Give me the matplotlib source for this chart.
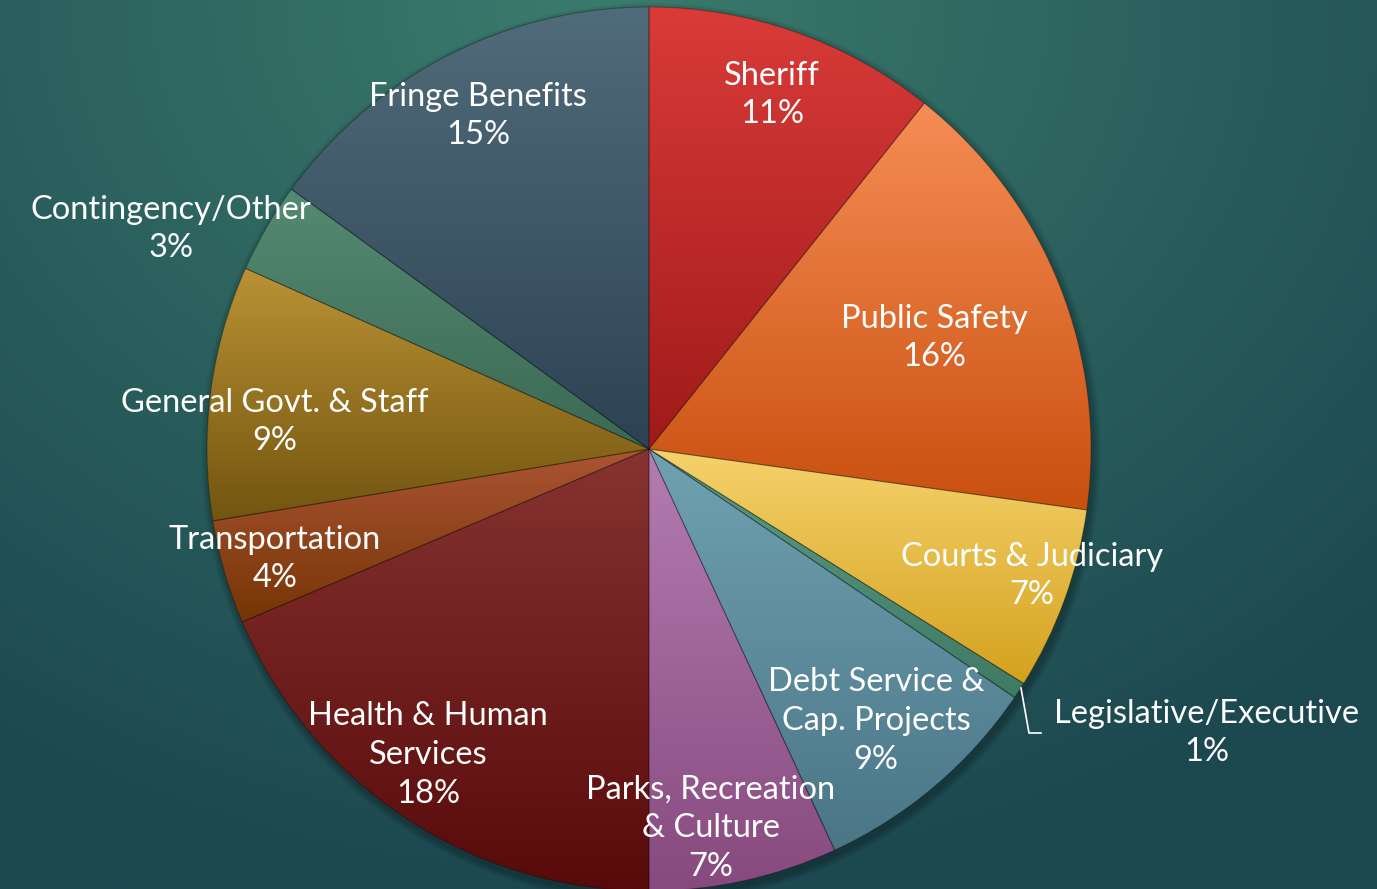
import numpy as np
import matplotlib
matplotlib.use("Agg")
import matplotlib.pyplot as plt
from matplotlib.colors import to_rgb

# ---- data ----
categories = ["Sheriff", "Public Safety", "Courts & Judiciary", "Legislative/Executive",
              "Debt Service &\nCap. Projects", "Parks, Recreation\n& Culture",
              "Health & Human\nServices", "Transportation", "General Govt. & Staff",
              "Contingency/Other", "Fringe Benefits"]
shares = [10.7, 16.5, 6.7, 0.6, 8.6, 6.9, 18.6, 3.8, 9.3, 3.3, 15.0]
pct_labels = ["11%", "16%", "7%", "1%", "9%", "7%", "18%", "4%", "9%", "3%", "15%"]

# ---- style ----
top_colors = ["#d93b38", "#f68d55", "#f6d26c", "#5c9c84", "#70a2b2", "#b37db1",
              "#863331", "#ab5433", "#ba9234", "#548a72", "#506b79"]
bot_colors = ["#a01a1a", "#c9500f", "#d4a21f", "#3f7a64", "#4a7686", "#874a7f",
              "#580a0a", "#753505", "#735510", "#3b6954", "#2d4354"]
label_pos = [(772, 95), (934, 338), (1032, 576), (1207, 733), (876, 721),
             (711, 828), (428, 755), (275, 559), (275, 422), (171, 229), (478, 116)]

W, H = 1377, 889
fig = plt.figure(figsize=(W / 100, H / 100), dpi=100)
ax = fig.add_axes([0, 0, 1, 1])

# background gradient
yy, xx = np.mgrid[0:H:4, 0:W:4]
c_light = np.array(to_rgb("#3b7b6d"))
c_dark = np.array(to_rgb("#1c4850"))
d = np.hypot((xx - 600) / 1100.0, (yy - 0) / 900.0)
d = np.clip(d, 0, 1)[..., None]
bg = c_light * (1 - d) + c_dark * d
ax.imshow(bg, extent=[0, W, H, 0], zorder=0, interpolation="bilinear", aspect="auto")

cx, cy, R = 649, 449, 442

# soft shadow
for k in range(8):
    circ = plt.Circle((cx + 2, cy + 4), R + 8 - k, color="black", alpha=0.03, zorder=1, lw=0)
    ax.add_patch(circ)

# y axis is inverted, so startangle=-90 is 12 o'clock and counterclock=True runs clockwise on screen
wedges, _ = ax.pie(shares, center=(cx, cy), radius=R, startangle=-90, counterclock=True,
                   frame=True, wedgeprops=dict(linewidth=0.8, edgecolor=(0, 0, 0, 0.25)))
ax.set_xlim(0, W)
ax.set_ylim(H, 0)
ax.set_aspect("equal")
ax.axis("off")

for w, ct, cb in zip(wedges, top_colors, bot_colors):
    w.set_zorder(3)
    w.set_facecolor("none")
    verts = w.get_path().vertices
    ys = verts[:, 1]
    xs = verts[:, 0]
    y0, y1 = ys.min(), ys.max()
    x0, x1 = xs.min(), xs.max()
    n = 64
    t = np.linspace(0, 1, n)[:, None]
    grad = np.array(to_rgb(ct)) * (1 - t) + np.array(to_rgb(cb)) * t
    img = np.repeat(grad[:, None, :], 2, axis=1)
    im = ax.imshow(img, extent=[x0, x1, y1, y0], zorder=2, aspect="auto", interpolation="bilinear")
    im.set_clip_path(w)

ax.set_xlim(0, W)
ax.set_ylim(H, 0)

font = ["Lato", "DejaVu Sans"]
for cat, pct, (lx, ly) in zip(categories, pct_labels, label_pos):
    ax.text(lx, ly, cat + "\n" + pct, ha="center", va="center", color="white",
            fontsize=23.5, family=font, fontweight="normal", linespacing=1.36, zorder=5)

# leader line for the small slice
ax.plot([1021, 1029, 1041], [688, 733, 733], color="white", lw=1.2, zorder=5)

fig.savefig("out.png", dpi=100)
